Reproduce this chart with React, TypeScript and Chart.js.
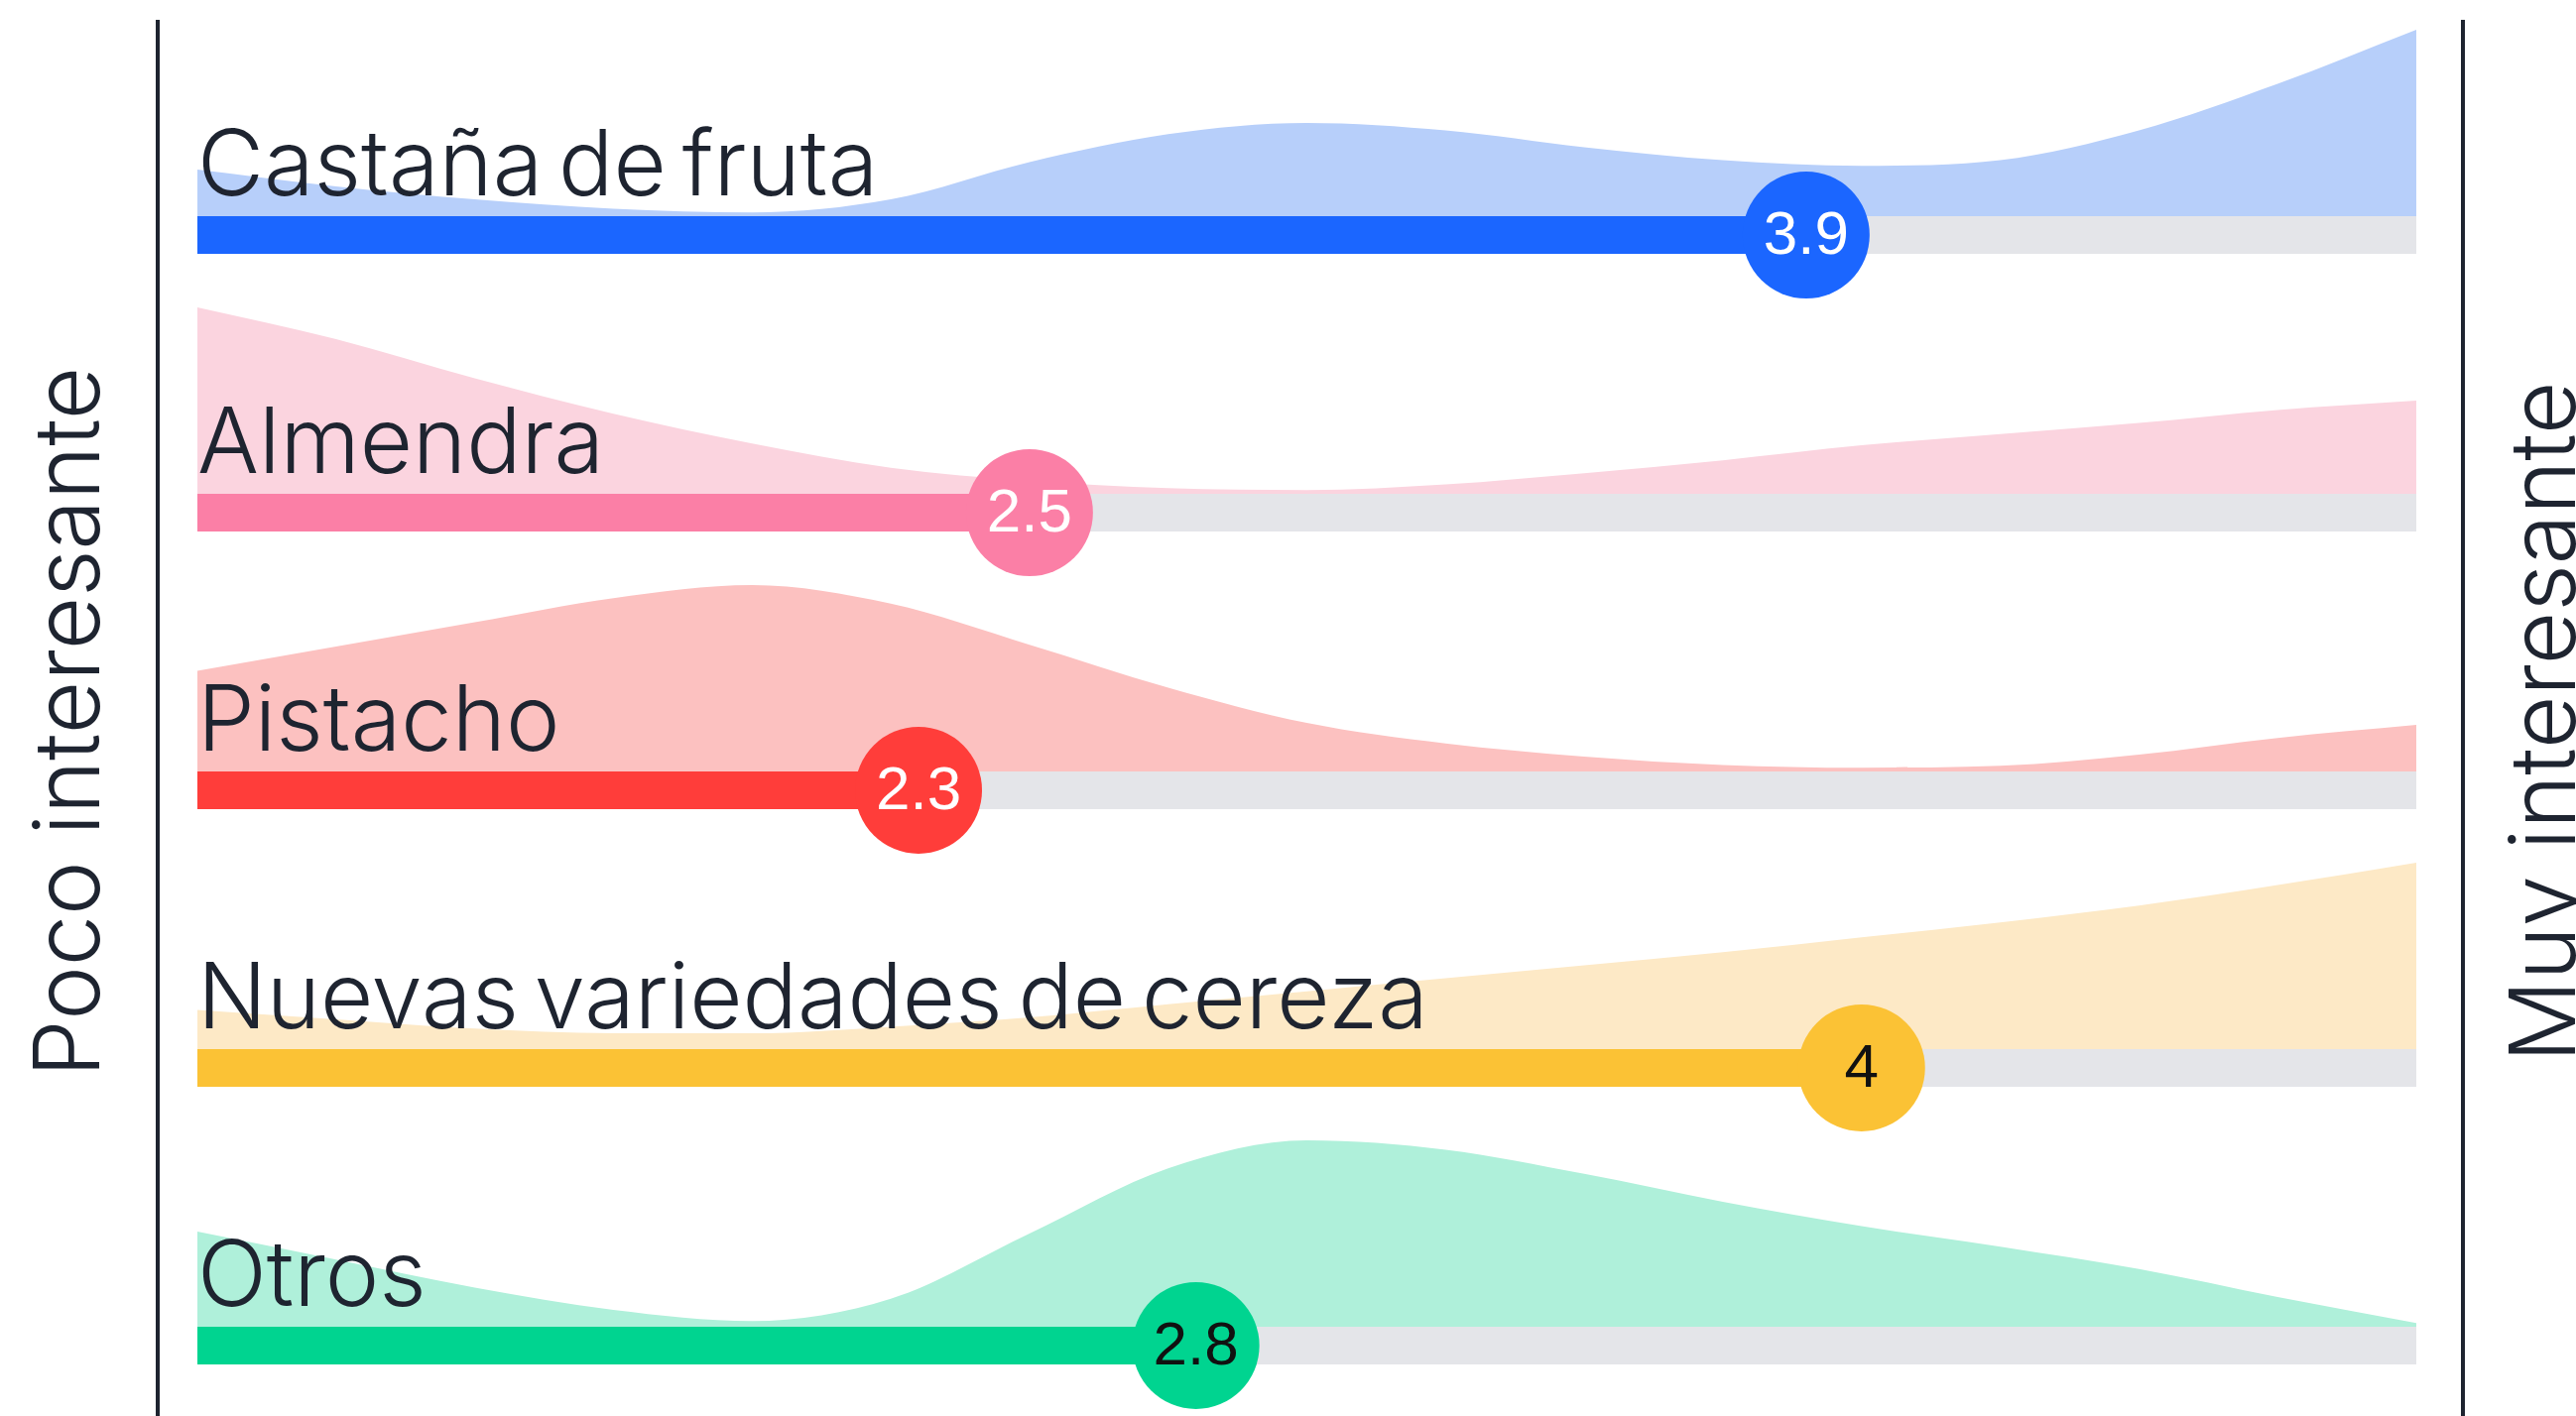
import React, { useEffect, useRef } from "react";
import { Chart, registerables } from "chart.js";

Chart.register(...registerables);

// ---------- data ----------
const categories = [
  "Castaña de fruta",
  "Almendra",
  "Pistacho",
  "Nuevas variedades de cereza",
  "Otros",
];
const scores = [3.9, 2.5, 2.3, 4, 2.8];
const scoreLabels = ["3.9", "2.5", "2.3", "4", "2.8"];
const scaleMin = 1;
const scaleMax = 5;
const leftTitle = "Poco interesante";
const rightTitle = "Muy interesante";

const densityX = [1, 1.25, 1.5, 1.75, 2, 2.25, 2.5, 2.75, 3, 3.25, 3.5, 3.75, 4, 4.25, 4.5, 4.75, 5];
const densityCastana = [0.25, 0.16, 0.09, 0.04, 0.02, 0.09, 0.29, 0.44, 0.5, 0.46, 0.37, 0.3, 0.27, 0.3, 0.46, 0.71, 1.0];
const densityAlmendra = [1.0, 0.83, 0.62, 0.43, 0.27, 0.14, 0.07, 0.03, 0.02, 0.05, 0.11, 0.18, 0.26, 0.32, 0.38, 0.45, 0.5];
const densityPistacho = [0.54, 0.67, 0.8, 0.93, 1.0, 0.9, 0.68, 0.45, 0.26, 0.15, 0.08, 0.035, 0.02, 0.03, 0.09, 0.18, 0.25];
const densityCereza = [0.21, 0.16, 0.11, 0.085, 0.085, 0.12, 0.17, 0.24, 0.31, 0.38, 0.45, 0.52, 0.6, 0.68, 0.77, 0.88, 1.0];
const densityOtros = [0.51, 0.36, 0.21, 0.09, 0.03, 0.15, 0.5, 0.85, 1.0, 0.95, 0.82, 0.67, 0.54, 0.43, 0.31, 0.16, 0.02];
const densities = [densityCastana, densityAlmendra, densityPistacho, densityCereza, densityOtros];

// ---------- styles ----------
const barColors = ["#1b66ff", "#fb7fa6", "#ff3d3a", "#fbc235", "#00d490"];
const densityColors = ["#b7cffa", "#fbd4df", "#fcc1c0", "#fde9c6", "#aff0da"];
const scoreTextColors = ["#ffffff", "#ffffff", "#ffffff", "#111111", "#111111"];
const trackColor = "#e4e5e9";
const inkColor = "#1e2430";
const labelFont = "300 92px Inter";
const titleFont = "300 92px Inter";
const scoreFont = "400 62px 'Liberation Sans'";
const W = 2597;
const H = 1428;
const BAR_PX = 38;
const ROW_PX = 280;
const DENSITY_PX = 188;
const CIRCLE_R = 64;
const TITLE_Y = 728;
// axis extents (value units) so that 1 and 5 land inside the framing lines
const X_AXIS_MIN = 0.9285;
const X_AXIS_MAX = 5.084;
const Y_AXIS_MIN = -0.2536;
const Y_AXIS_MAX = 4.775;

export default function App() {
  const ref = useRef<HTMLCanvasElement>(null);

  useEffect(() => {
    const canvas = ref.current;
    if (!canvas) return;
    const n = categories.length;
    const barHalf = BAR_PX / 2 / ROW_PX;
    const dScale = DENSITY_PX / ROW_PX;
    const datasets: any[] = [];

    categories.forEach((cat, i) => {
      const row = n - 1 - i;
      const base = row + barHalf;
      datasets.push({
        type: "line",
        label: cat + " densidad",
        data: densityX.map((x, k) => ({ x, y: base + densities[i][k] * dScale })),
        fill: { value: base },
        backgroundColor: densityColors[i],
        borderWidth: 0,
        borderColor: "rgba(0,0,0,0)",
        pointRadius: 0,
        cubicInterpolationMode: "monotone",
        order: 4,
        clip: false,
      });
      datasets.push({
        type: "line",
        label: cat + " pista",
        data: [
          { x: scaleMin, y: row },
          { x: scaleMax, y: row },
        ],
        borderColor: trackColor,
        borderWidth: BAR_PX,
        borderCapStyle: "butt",
        pointRadius: 0,
        fill: false,
        order: 3,
        clip: false,
      });
      datasets.push({
        type: "line",
        label: cat,
        data: [
          { x: scaleMin, y: row },
          { x: scores[i], y: row },
        ],
        borderColor: barColors[i],
        borderWidth: BAR_PX,
        borderCapStyle: "butt",
        pointRadius: 0,
        fill: false,
        order: 2,
        clip: false,
      });
      datasets.push({
        type: "scatter",
        label: cat + " media",
        data: [{ x: scores[i], y: row }],
        pointRadius: CIRCLE_R,
        pointHoverRadius: CIRCLE_R,
        pointBackgroundColor: barColors[i],
        pointBorderWidth: 0,
        pointBorderColor: barColors[i],
        order: 1,
        clip: false,
      });
    });

    const overlay = {
      id: "overlay",
      afterDatasetsDraw(chart: any) {
        const { ctx, chartArea, scales } = chart;
        const xs = scales.x;
        const ys = scales.y;
        ctx.save();
        // framing lines
        ctx.strokeStyle = inkColor;
        ctx.lineWidth = 4;
        ctx.beginPath();
        ctx.moveTo(chartArea.left, chartArea.top);
        ctx.lineTo(chartArea.left, H);
        ctx.moveTo(chartArea.right, chartArea.top);
        ctx.lineTo(chartArea.right, H);
        ctx.stroke();

        // category labels
        ctx.fillStyle = inkColor;
        ctx.font = labelFont;
        (ctx as any).wordSpacing = "-10px";
        ctx.textAlign = "left";
        ctx.textBaseline = "alphabetic";
        categories.forEach((cat, i) => {
          const row = n - 1 - i;
          const x = xs.getPixelForValue(scaleMin);
          const y = ys.getPixelForValue(row + barHalf) - 21;
          ctx.fillText(cat, x, y);
        });
        (ctx as any).wordSpacing = "0px";

        // score labels
        ctx.font = scoreFont;
        ctx.textAlign = "center";
        ctx.textBaseline = "middle";
        categories.forEach((_, i) => {
          const row = n - 1 - i;
          ctx.fillStyle = scoreTextColors[i];
          ctx.fillText(scoreLabels[i], xs.getPixelForValue(scores[i]), ys.getPixelForValue(row) + 2);
        });

        // side titles
        ctx.fillStyle = inkColor;
        ctx.font = titleFont;
        ctx.textAlign = "center";
        ctx.textBaseline = "alphabetic";
        ctx.save();
        ctx.translate(chartArea.left - 59, TITLE_Y);
        ctx.rotate(-Math.PI / 2);
        ctx.fillText(leftTitle, 0, 0);
        ctx.restore();
        ctx.save();
        ctx.translate(chartArea.right + 113, TITLE_Y);
        ctx.rotate(-Math.PI / 2);
        ctx.fillText(rightTitle, 0, 0);
        ctx.restore();
        ctx.restore();
      },
    };

    const chart = new Chart(canvas, {
      type: "line",
      data: { datasets },
      options: {
        responsive: false,
        animation: false,
        devicePixelRatio: 1,
        events: [],
        layout: { autoPadding: false, padding: { left: 159, right: W - 2483, top: 20, bottom: 0 } },
        plugins: { legend: { display: false }, tooltip: { enabled: false } },
        scales: {
          x: { type: "linear", min: X_AXIS_MIN, max: X_AXIS_MAX, display: false },
          y: { type: "linear", min: Y_AXIS_MIN, max: Y_AXIS_MAX, display: false },
        },
      },
      plugins: [overlay],
    } as any);

    return () => chart.destroy();
  }, []);

  return (
    <div style={{ position: "fixed", left: 0, top: 0, width: W, height: H, background: "#ffffff" }}>
      <canvas ref={ref} width={W} height={H} style={{ width: W, height: H, display: "block" }} />
    </div>
  );
}
